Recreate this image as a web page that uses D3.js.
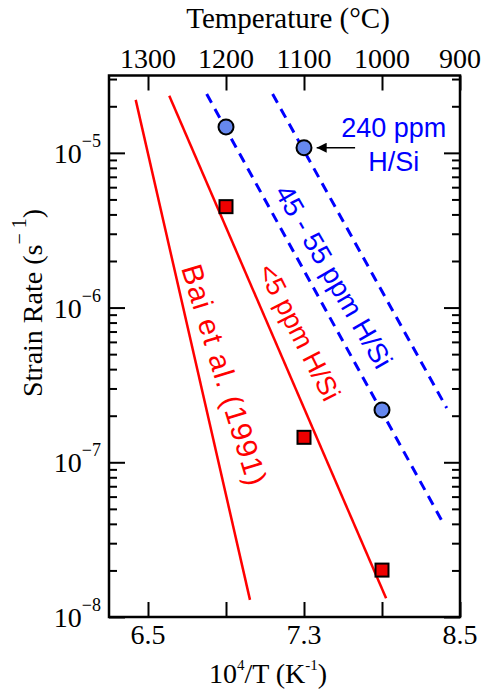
<!DOCTYPE html>
<html>
<head>
<meta charset="utf-8">
<script src="https://cdn.jsdelivr.net/npm/d3@7"></script>
<style>
  body { margin: 0; background: #fff; }
  .axis-text { font-family: "Liberation Serif", "Times New Roman", serif; fill: #000; }
  .lbl { font-family: "Liberation Sans", Arial, sans-serif; }
</style>
</head>
<body>
<svg width="483" height="692"></svg>
<script>
// x ticks (10^4/T) and temperature labels on the top axis
const xTicks = [6.5, 6.9, 7.3, 7.7, 8.1];
const xTickLabels = ["6.5", "", "7.3", "", "8.5"];
const tempLabels = ["1300", "1200", "1100", "1000", "900"];
const yDecades = [-8, -7, -6, -5];

// fitted lines (x, strain rate)
const baiLine = [[6.437, 2.2e-5], [7.023, 1.29e-8]];
const lowLine = [[6.609, 2.34e-5], [7.721, 1.32e-8]];
const midLine = [[6.801, 2.4e-5], [8.014, 4.04e-8]];
const highLine = [[7.139, 2.4e-5], [8.032, 2.24e-7]];

// measurements
const circleX = [6.9, 7.3, 7.7];
const circleY = [1.47e-5, 1.08e-5, 2.18e-7];
const squareX = [6.9, 7.3, 7.7];
const squareY = [4.49e-6, 1.45e-7, 2.01e-8];

const svg = d3.select('svg');
const margin = {left: 109, right: 23, top: 75.5, bottom: 75};
const width = +svg.attr('width');
const height = +svg.attr('height');

const x = d3.scaleLinear().domain([6.3, 8.1]).range([margin.left, width - margin.right]);
const y = d3.scaleLog().domain([1e-8, Math.pow(10, -4.5)]).range([height - margin.bottom, margin.top]);

// minor ticks 2..9 of each decade inside the domain
const minor = [];
yDecades.forEach(p => {
  for (let k = 2; k <= 9; k++) {
    const v = k * Math.pow(10, p);
    if (v <= y.domain()[1]) minor.push(v);
  }
});
const major = yDecades.map(p => Math.pow(10, p));

// axes, ticks pointing inward
function tickAxis(axis, tx, ty) {
  const g = svg.append('g').attr('transform', `translate(${tx},${ty})`).call(axis);
  g.select('.domain').remove();
  g.selectAll('line').attr('stroke', '#000').attr('stroke-width', 2);
  g.selectAll('text').remove();
  return g;
}
tickAxis(d3.axisBottom(x).tickValues(xTicks).tickSize(-15), 0, y.range()[0]);
tickAxis(d3.axisTop(x).tickValues(xTicks).tickSize(-15), 0, y.range()[1]);
tickAxis(d3.axisLeft(y).tickValues(major).tickSize(-16), x.range()[0], 0);
tickAxis(d3.axisLeft(y).tickValues(minor).tickSize(-8), x.range()[0], 0);
tickAxis(d3.axisRight(y).tickValues(major).tickSize(-16), x.range()[1], 0);
tickAxis(d3.axisRight(y).tickValues(minor).tickSize(-8), x.range()[1], 0);

// frame
svg.append('rect')
  .attr('x', x.range()[0]).attr('y', y.range()[1])
  .attr('width', x.range()[1] - x.range()[0])
  .attr('height', y.range()[0] - y.range()[1])
  .attr('fill', 'none').attr('stroke', '#000').attr('stroke-width', 2.5);

// bottom tick labels
svg.selectAll('.xlab').data(xTicks).join('text')
  .attr('class', 'axis-text')
  .attr('x', d => x(d)).attr('y', 644)
  .attr('text-anchor', 'middle').attr('font-size', 28)
  .text((d, i) => xTickLabels[i]);

// top tick labels
svg.selectAll('.tlab').data(xTicks).join('text')
  .attr('class', 'axis-text')
  .attr('x', d => x(d)).attr('y', 68)
  .attr('text-anchor', 'middle').attr('font-size', 28)
  .text((d, i) => tempLabels[i]);

// y tick labels 10^n
const ylab = svg.selectAll('.ylab').data(yDecades).join('text')
  .attr('class', 'axis-text')
  .attr('x', 101).attr('y', d => y(Math.pow(10, d)) + 10)
  .attr('text-anchor', 'end').attr('font-size', 28);
ylab.append('tspan').text('10');
ylab.append('tspan').attr('font-size', 18).attr('dy', -16).text(d => '\u2212' + (-d));

// axis titles
svg.append('text').attr('class', 'axis-text')
  .attr('x', 288).attr('y', 28).attr('text-anchor', 'middle').attr('font-size', 29)
  .text('Temperature (\u00b0C)');

const xt = svg.append('text').attr('class', 'axis-text')
  .attr('x', 268).attr('y', 683).attr('text-anchor', 'middle').attr('font-size', 28);
xt.append('tspan').text('10');
xt.append('tspan').attr('font-size', 15).attr('dy', -13).text('4');
xt.append('tspan').attr('dy', 13).text('/T (K');
xt.append('tspan').attr('font-size', 15).attr('dy', -13).text('-1');
xt.append('tspan').attr('dy', 13).text(')');

const yt = svg.append('text').attr('class', 'axis-text')
  .attr('transform', 'translate(42,303) rotate(-90)')
  .attr('text-anchor', 'middle').attr('font-size', 28);
yt.append('tspan').text('Strain Rate (s');
yt.append('tspan').attr('font-size', 20).attr('dy', -16).text('\u2212 1');
yt.append('tspan').attr('dy', 16).text(')');

// lines
const line = d3.line().x(d => x(d[0])).y(d => y(d[1]));
svg.append('path').datum(baiLine).attr('d', line)
  .attr('stroke', '#ff0000').attr('stroke-width', 2.5).attr('fill', 'none');
svg.append('path').datum(lowLine).attr('d', line)
  .attr('stroke', '#ff0000').attr('stroke-width', 2.5).attr('fill', 'none');
svg.append('path').datum(midLine).attr('d', line)
  .attr('stroke', '#0000ff').attr('stroke-width', 3).attr('stroke-dasharray', '10,7').attr('fill', 'none');
svg.append('path').datum(highLine).attr('d', line)
  .attr('stroke', '#0000ff').attr('stroke-width', 3).attr('stroke-dasharray', '10,7').attr('fill', 'none');

// arrow to the 240 ppm point
svg.append('defs').append('marker')
  .attr('id', 'head').attr('viewBox', '0 0 10 10')
  .attr('refX', 10).attr('refY', 5)
  .attr('markerWidth', 15).attr('markerHeight', 10)
  .attr('markerUnits', 'userSpaceOnUse')
  .attr('orient', 'auto')
  .append('path').attr('d', 'M0,0 L10,5 L0,10 Z').attr('fill', '#000');
svg.append('line')
  .attr('x1', x(7.562)).attr('y1', y(1.08e-5))
  .attr('x2', x(7.365)).attr('y2', y(1.08e-5))
  .attr('stroke', '#000').attr('stroke-width', 1.5)
  .attr('marker-end', 'url(#head)');

// points
svg.selectAll('.sq').data(squareX).join('rect')
  .attr('x', (d, i) => x(d) - 6.5).attr('y', (d, i) => y(squareY[i]) - 6.5)
  .attr('width', 13).attr('height', 13)
  .attr('fill', '#ee0000').attr('stroke', '#000').attr('stroke-width', 2);
svg.selectAll('.ci').data(circleX).join('circle')
  .attr('cx', d => x(d)).attr('cy', (d, i) => y(circleY[i]))
  .attr('r', 7.5)
  .attr('fill', '#6688ee').attr('stroke', '#000').attr('stroke-width', 2);

// labels
function rotLabel(px, py, angle, txt, color, size, spacing) {
  svg.append('text').attr('class', 'lbl')
    .attr('transform', `translate(${x(px)},${y(py)}) rotate(${angle})`)
    .attr('font-size', size).attr('fill', color)
    .attr('letter-spacing', spacing || 0)
    .text(txt);
}
rotLabel(6.669, 1.80e-6, 73, 'Bai et al. (1991)', '#ff0000', 29.5, 1.3);
rotLabel(7.059, 1.75e-6, 63, '<5 ppm H/Si', '#ff0000', 27);
rotLabel(7.146, 5.58e-6, 60, '45 - 55 ppm H/Si', '#0000ff', 27.5);

svg.append('text').attr('class', 'lbl')
  .attr('x', x(7.76)).attr('y', y(1.27e-5))
  .attr('text-anchor', 'middle').attr('font-size', 27).attr('fill', '#0000ff')
  .text('240 ppm');
svg.append('text').attr('class', 'lbl')
  .attr('x', x(7.76)).attr('y', y(7.67e-6))
  .attr('text-anchor', 'middle').attr('font-size', 27).attr('fill', '#0000ff')
  .text('H/Si');
</script>
</body>
</html>
